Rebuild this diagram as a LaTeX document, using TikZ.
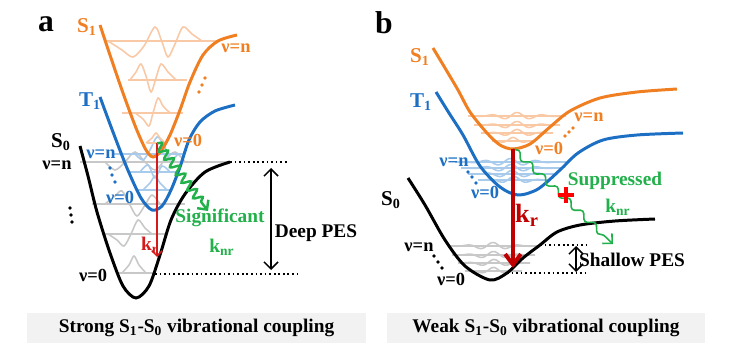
\documentclass[tikz,border=0pt]{standalone}
\usepackage{fontspec}
\setmainfont{Liberation Serif}
\usetikzlibrary{arrows.meta,decorations.pathmorphing}
\definecolor{sone}{HTML}{F07F22}
\definecolor{tone}{HTML}{1D6FC4}
\definecolor{sonelt}{HTML}{F9C9A6}
\definecolor{tonelt}{HTML}{A9CBEB}
\definecolor{szerolt}{HTML}{C8C8C8}
\definecolor{knr}{HTML}{22B04B}
\definecolor{kra}{HTML}{D41A1A}
\definecolor{krb}{HTML}{C00000}
\definecolor{capbg}{HTML}{F2F2F2}
\tikzset{%
  pes/.style={line width=1.7pt},
  lvl/.style={line width=1pt},
  wave/.style={line width=0.9pt},
  tag/.style={font=\fontsize{10.5}{12}\selectfont\bfseries, inner sep=0pt},
  txt/.style={font=\fontsize{11}{13}\selectfont\bfseries, inner sep=0pt},
  state/.style={font=\fontsize{12}{14}\selectfont\bfseries, inner sep=0pt},
  panel/.style={font=\fontsize{18}{20}\selectfont\bfseries, inner sep=0pt},
  capbox/.style={fill=capbg, minimum height=0.6cm, inner sep=0pt, font=\fontsize{11}{13}\selectfont\bfseries},
  span/.style={{Straight Barb[length=4pt]}-{Straight Barb[length=4pt]}, line width=0.9pt},
  guide/.style={line width=1pt, dash pattern=on 1pt off 1.6pt},
  knrstrong/.style={knr, line width=1.4pt, -{Straight Barb[length=4pt]},
    decorate, decoration={snake, amplitude=2.4pt, segment length=5.5pt, post length=4pt}},
  knrweak/.style={knr, line width=0.9pt, -{Straight Barb[length=4pt]},
    decorate, decoration={snake, amplitude=1.7pt, segment length=10pt, post length=4pt}}%
}

\begin{document}
\begin{tikzpicture}[x=0.02cm, y=-0.02cm]
\useasboundingbox (0,0) rectangle (734,358);

% ---------------- panel a ----------------
\node[panel] (pa) at (46,24) {a};

% S0 levels
\draw[lvl, szerolt] (80,162) -- (230,162);
\draw[lvl, szerolt] (92,204) -- (185,204);
\draw[lvl, szerolt] (103,234) -- (168,234);
\draw[lvl, szerolt] (118,273) -- (155,273);
\draw[wave, szerolt] plot[smooth] coordinates {(105,162) (115,170) (125,162) (135,152) (145,162) (155,170) (165,160) (175,152) (185,162)};
\draw[wave, szerolt] plot[smooth] coordinates {(105,204) (115,196) (122,191) (130,205) (137,216) (145,205) (152,195) (160,204)};
\draw[wave, szerolt] plot[smooth] coordinates {(108,234) (117,240) (124,246) (131,234) (138,220) (145,228) (152,234)};
\draw[wave, szerolt] plot[smooth] coordinates {(122,273) (129,265) (134,256) (139,265) (146,273)};

% T1 levels
\draw[lvl, tonelt] (114,154) -- (185,154);
\draw[lvl, tonelt] (128,172) -- (178,172);
\draw[lvl, tonelt] (137,190) -- (170,190);
\draw[wave, tonelt] plot[smooth] coordinates {(135,154) (143,160) (150,150) (157,137) (164,145) (170,160) (178,154)};
\draw[wave, tonelt] plot[smooth] coordinates {(140,172) (148,165) (155,178) (162,166) (170,172)};
\draw[wave, tonelt] plot[smooth] coordinates {(143,190) (150,183) (155,176) (160,183) (167,190)};

% S1 levels
\draw[lvl, sonelt] (105,41) -- (217,41);
\draw[lvl, sonelt] (128,80) -- (187,80);
\draw[lvl, sonelt] (122,113) -- (183,113);
\draw[lvl, sonelt] (147,143) -- (163,143);
\draw[wave, sonelt] plot[smooth] coordinates {(108,41) (122,50) (133,57) (144,46) (155,27) (162,42) (168,57) (175,44) (183,27) (192,34) (202,41)};
\draw[wave, sonelt] plot[smooth] coordinates {(130,80) (136,72) (141,64) (146,76) (151,92) (156,78) (161,64) (168,72) (176,80)};
\draw[wave, sonelt] plot[smooth] coordinates {(135,113) (143,119) (149,126) (153,113) (158,98) (163,106) (170,113)};
\draw[wave, sonelt] plot[smooth] coordinates {(146,143) (152,138) (156,133) (160,138) (165,143)};

% potential energy surfaces
\draw[pes] plot[smooth] coordinates {(80,146) (88,176) (97,212) (110,253) (123,286) (136,298) (149,286) (160,255) (171,220) (185,194) (205,172) (230,162)};
\draw[pes, tone] plot[smooth] coordinates {(100,97) (113,132) (127,168) (141,198) (152,210) (162,206) (171,190) (180,167) (189,140) (200,122) (215,111) (235,105)};
\draw[pes, sone] plot[smooth] coordinates {(100,25) (111,58) (123,93) (136,128) (146,150) (153,157) (161,151) (170,135) (180,110) (190,82) (203,55) (218,41) (237,35)};

% guides
\coordinate (a-top) at (230,162);
\coordinate (a-topend) at (287,162);
\coordinate (a-bot) at (155,274);
\coordinate (a-botend) at (297,274);
\draw[guide] (a-top) -- (a-topend);
\draw[guide] (a-bot) -- (a-botend);
\coordinate (a-up) at (271,168);
\coordinate (a-dn) at (271,270);
\draw[span] (a-up) -- (a-dn);

% transitions
\coordinate (a-s1) at (157,143);
\coordinate (a-s0) at (157,257);
\coordinate (a-nr) at (208,211);
\draw[kra, line width=0.9pt, -{Straight Barb[length=3pt]}] (a-s1) -- (a-s0);
\draw[knrstrong] (a-s1) -- (a-nr);

% dots
\foreach \px/\py in {199/92, 202/85, 205/78} \fill[sone] (\px,\py) circle[radius=1.1pt];
\foreach \px/\py in {110/168, 112/175, 115/182} \fill[tone] (\px,\py) circle[radius=1.1pt];
\foreach \px/\py in {70/208, 71/215, 72/222} \fill (\px,\py) circle[radius=1.1pt];

% labels
\node[state, sone] (a-S1) at (87,27) {S\textsubscript{1}};
\node[state, tone] (a-T1) at (90,101) {T\textsubscript{1}};
\node[state] (a-S0) at (61,142) {S\textsubscript{0}};
\node[tag] (a-s0n) at (57,165) {ν=n};
\node[tag, sone] (a-s1n) at (236,48) {ν=n};
\node[tag, sone] (a-s10) at (188,140) {ν=0};
\node[tag, tone] (a-t1n) at (101,154) {ν=n};
\node[tag, tone] (a-t10) at (120,197) {ν=0};
\node[tag] (a-s00) at (93,275) {ν=0};
\node[txt, kra] (a-kr) at (150,245) {k\textsubscript{r}};
\node[txt, knr] (a-sig) at (220,218) {Significant};
\node[txt, knr] (a-knr) at (222,247) {k\textsubscript{nr}};
\node[txt] (a-deep) at (316,233) {Deep PES};
\node[capbox, minimum width=6.78cm] (a-cap) at (196.5,328) {Strong S\textsubscript{1}-S\textsubscript{0} vibrational coupling};

% ---------------- panel b ----------------
\node[panel] (pb) at (384,23) {b};

% vibrational levels
\foreach \yy/\xa/\xb/\cl in {246/448/538/szerolt, 255/452/535/szerolt, 263/458/530/szerolt, 271/465/522/szerolt,
                             162/455/566/tonelt, 168/461/561/tonelt, 174/468/556/tonelt, 180/478/550/tonelt,
                             116/468/566/sonelt, 125/474/560/sonelt, 133/481/553/sonelt, 141/492/534/sonelt} {
  \pgfmathsetmacro{\xc}{(\xa+\xb)/2}
  \pgfmathsetmacro{\xw}{(\xb-\xa)/4}
  \draw[lvl, \cl] (\xa,\yy) -- (\xb,\yy);
  \draw[wave, \cl] plot[domain=\xa:\xb, samples=70] (\x, {\yy-3.5*exp(-((\x-\xc)/\xw)*((\x-\xc)/\xw))*cos(14*(\x-\xc))});
}

% potential energy surfaces
\draw[pes] plot[smooth] coordinates {(408,178) (425,205) (445,240) (465,266) (490,280) (507,273) (523,258) (540,245) (557,232) (580,225) (615,221) (655,219)};
\draw[pes, tone] plot[smooth] coordinates {(436,92) (449,113) (463,135) (480,166) (500,187) (518,195) (538,189) (560,170) (578,153) (603,140) (637,135) (683,133)};
\draw[pes, sone] plot[smooth] coordinates {(433,48) (445,68) (458,90) (470,112) (487,133) (500,145) (513,149) (530,144) (550,127) (570,111) (600,98) (637,92) (677,89)};

% guides
\coordinate (b-top) at (540,245);
\coordinate (b-topend) at (588,245);
\coordinate (b-bot) at (507,273);
\coordinate (b-botend) at (588,273);
\draw[guide] (b-top) -- (b-topend);
\draw[guide] (b-bot) -- (b-botend);
\coordinate (b-up) at (576,246);
\coordinate (b-dn) at (576,272);
\draw[span] (b-up) -- (b-dn);

% transitions
\coordinate (b-s1) at (513,149);
\coordinate (b-s0) at (513,268);
\coordinate (b-nr) at (613,244);
\draw[knrweak] (b-s1) -- (b-nr);
\draw[krb, line width=2.3pt, -{Straight Barb[length=6pt, width=9pt]}] (b-s1) -- (b-s0);
\coordinate (b-block) at (566,195);
\draw[red, line width=1.8pt] ([xshift=-8*0.02cm]b-block) -- ([xshift=8*0.02cm]b-block)
  ([yshift=-8*0.02cm]b-block) -- ([yshift=8*0.02cm]b-block);

% dots
\foreach \px/\py in {565/136, 569/132, 573/128} \fill[sone] (\px,\py) circle[radius=1.1pt];
\foreach \px/\py in {468/172, 472/177, 476/183} \fill[tone] (\px,\py) circle[radius=1.1pt];
\foreach \px/\py in {434/256, 438/262, 442/268} \fill (\px,\py) circle[radius=1.1pt];

% labels
\node[state, sone] (b-S1) at (420,57) {S\textsubscript{1}};
\node[state, tone] (b-T1) at (421,102) {T\textsubscript{1}};
\node[state] (b-S0) at (391,200) {S\textsubscript{0}};
\node[tag, sone] (b-s1n) at (589,117) {ν=n};
\node[tag, sone] (b-s10) at (549,148) {ν=0};
\node[tag, tone] (b-t1n) at (454,162) {ν=n};
\node[tag, tone] (b-t10) at (485,192) {ν=0};
\node[tag] (b-s0n) at (419,247) {ν=n};
\node[tag] (b-s00) at (451,279) {ν=0};
\node[krb, font=\fontsize{15}{17}\selectfont\bfseries, inner sep=0pt] (b-kr) at (527,215) {k\textsubscript{r}};
\node[txt, knr] (b-sup) at (615,181) {Suppressed};
\node[txt, knr] (b-knr) at (618,207) {k\textsubscript{nr}};
\node[txt] (b-shallow) at (632,260) {Shallow PES};
\node[capbox, minimum width=6.36cm] (b-cap) at (546,328) {Weak S\textsubscript{1}-S\textsubscript{0} vibrational coupling};

\end{tikzpicture}
\end{document}
